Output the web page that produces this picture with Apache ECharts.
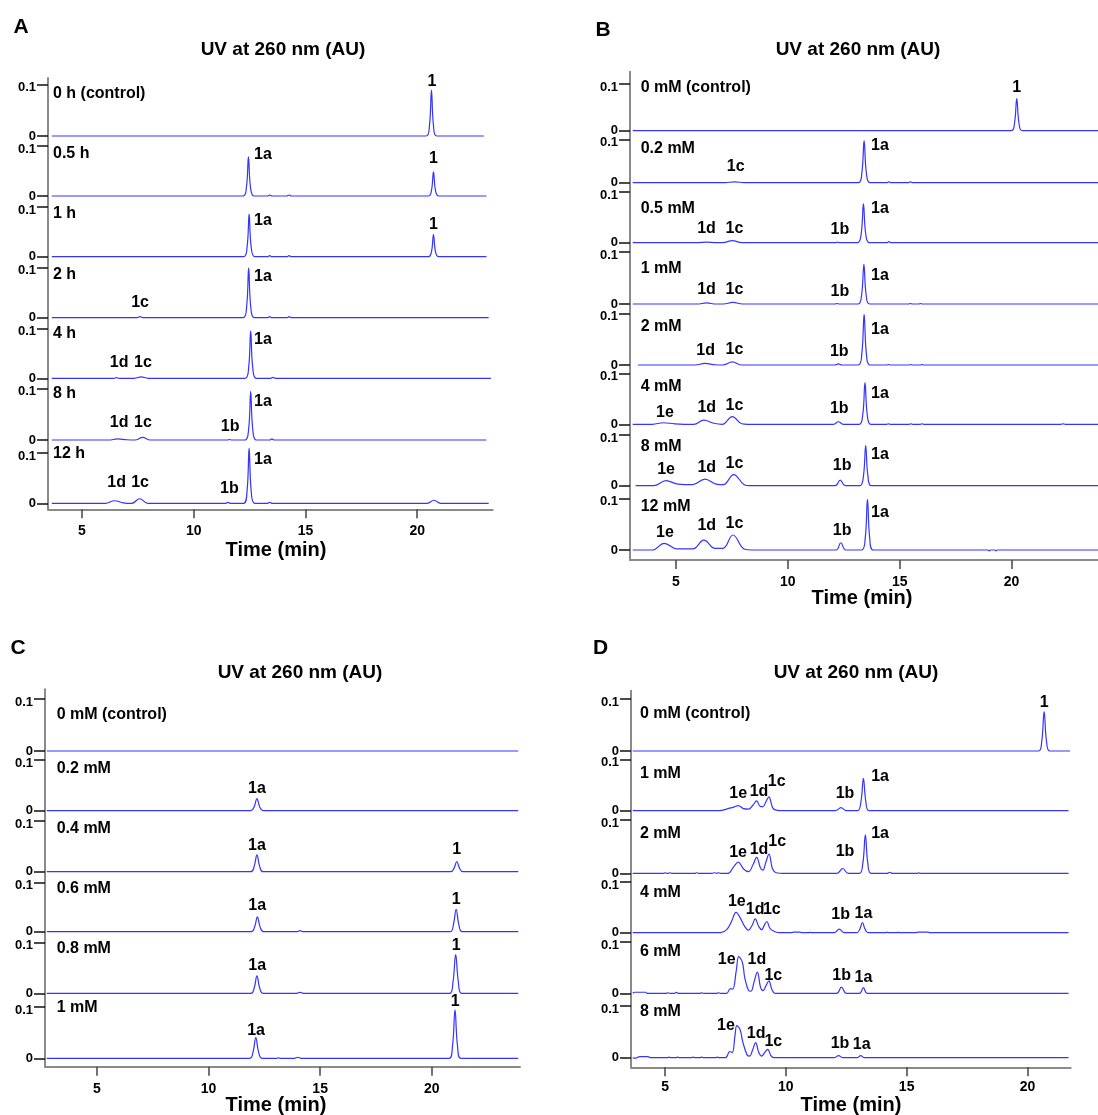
<!DOCTYPE html>
<html>
<head>
<meta charset="utf-8">
<script src="https://cdn.jsdelivr.net/npm/echarts@6/dist/echarts.min.js"></script>
<style>
html,body{margin:0;padding:0;background:#fff}
#main{width:1098px;height:1115px}
</style>
</head>
<body>
<div id="main"></div>
<script>
// ticks shared by all four panels
var xTicks = [5, 10, 15, 20];
var yTicks = [0, 0.1];

// ---------- panel A : time course ----------
var aNames = ['0 h (control)', '0.5 h', '1 h', '2 h', '4 h', '8 h', '12 h'];
var aTraces = [
  [[3.65,0],[20.4,0],[20.55,0.02],[20.64,0.089],[20.73,0.02],[20.88,0],[22.98,0]],
  [[3.65,0],[12.2,0],[12.36,0.018],[12.45,0.078],[12.54,0.018],[12.7,0],[13.3,0],[13.4,0.002],[13.5,0],[14.17,0],[14.27,0.002],[14.37,0],[20.5,0],[20.64,0.011],[20.73,0.048],[20.82,0.011],[20.96,0],[23.1,0]],
  [[3.65,0],[12.23,0],[12.39,0.02],[12.48,0.085],[12.57,0.02],[12.73,0],[13.3,0],[13.4,0.002],[13.5,0],[14.17,0],[14.27,0.002],[14.37,0],[20.5,0],[20.64,0.01],[20.73,0.044],[20.82,0.01],[20.96,0],[23.1,0]],
  [[3.65,0],[7.45,0],[7.6,0.002],[7.75,0],[12.21,0],[12.37,0.023],[12.46,0.099],[12.55,0.023],[12.71,0],[13.3,0],[13.4,0.002],[13.5,0],[14.17,0],[14.27,0.002],[14.37,0],[23.2,0]],
  [[3.65,0],[6.42,0],[6.54,0.0015],[6.66,0],[7.35,0],[7.65,0.003],[7.95,0],[12.3,0],[12.46,0.022],[12.55,0.095],[12.64,0.022],[12.8,0],[13.45,0],[13.55,0.002],[13.65,0],[23.3,0]],
  [[3.65,0],[6.2,0],[6.6,0.002],[7.0,0.0005],[7.37,0],[7.72,0.005],[8.05,0],[11.5,0],[11.6,0.001],[11.7,0],[12.3,0],[12.46,0.022],[12.55,0.094],[12.64,0.022],[12.8,0],[13.4,0],[13.5,0.002],[13.6,0],[23.1,0]],
  [[3.65,0],[6.05,0],[6.45,0.005],[6.85,0.001],[7.23,0],[7.58,0.009],[7.95,0],[11.43,0],[11.53,0.002],[11.63,0],[12.23,0],[12.39,0.026],[12.48,0.109],[12.57,0.026],[12.73,0],[13.3,0],[13.4,0.002],[13.5,0],[20.45,0],[20.75,0.006],[21.05,0],[23.2,0]]
];
var aPeaks = [
  [[20.66,0.105,'1']],
  [[13.1,0.083,'1a'],[20.73,0.074,'1']],
  [[13.1,0.072,'1a'],[20.73,0.065,'1']],
  [[7.6,0.030,'1c'],[13.1,0.081,'1a']],
  [[6.66,0.031,'1d'],[7.73,0.031,'1c'],[13.1,0.078,'1a']],
  [[6.66,0.033,'1d'],[7.73,0.033,'1c'],[11.63,0.026,'1b'],[13.1,0.075,'1a']],
  [[6.55,0.040,'1d'],[7.6,0.040,'1c'],[11.6,0.030,'1b'],[13.1,0.086,'1a']]
];

// ---------- panel B ----------
var bNames = ['0 mM (control)', '0.2 mM', '0.5 mM', '1 mM', '2 mM', '4 mM', '8 mM', '12 mM'];
var bTraces = [
  [[3.07,0],[19.98,0],[20.13,0.016],[20.23,0.069],[20.33,0.016],[20.48,0],[24,0]],
  [[3.07,0],[7.2,0],[7.62,0.002],[8.05,0],[13.15,0],[13.31,0.023],[13.41,0.097],[13.51,0.023],[13.67,0],[14.42,0],[14.52,0.002],[14.62,0],[15.38,0],[15.48,0.002],[15.58,0],[24,0]],
  [[3.07,0],[5.95,0],[6.37,0.001],[6.8,0],[7.1,0],[7.52,0.004],[7.95,0],[12.12,0],[12.22,0.001],[12.32,0],[13.12,0],[13.28,0.018],[13.38,0.076],[13.48,0.018],[13.64,0],[14.42,0],[14.52,0.002],[14.62,0],[24,0]],
  [[3.07,0],[5.95,0],[6.37,0.002],[6.8,0],[7.12,0],[7.55,0.003],[7.98,0],[12.1,0],[12.2,0.001],[12.3,0],[13.14,0],[13.3,0.018],[13.4,0.076],[13.5,0.018],[13.66,0],[15.4,0],[15.48,0.001],[15.56,0],[15.85,0],[15.93,0.001],[16.01,0],[24,0]],
  [[3.3,0],[5.85,0],[6.29,0.003],[6.75,0.0005],[7.1,0],[7.52,0.006],[7.95,0],[12.1,0],[12.26,0.002],[12.42,0],[13.15,0],[13.31,0.023],[13.41,0.098],[13.51,0.023],[13.67,0],[14.42,0],[14.5,0.001],[14.58,0],[15.42,0],[15.5,0.001],[15.58,0],[15.92,0],[16.0,0.001],[16.08,0],[24,0]],
  [[3.07,0],[3.95,0],[4.44,0.003],[4.95,0.001],[5.8,0],[6.25,0.008],[6.7,0.002],[7.07,0],[7.52,0.015],[7.95,0.001],[8.2,0],[12.04,0],[12.26,0.005],[12.48,0],[13.19,0],[13.35,0.019],[13.45,0.082],[13.55,0.019],[13.71,0],[14.42,0],[14.5,0.001],[14.58,0],[15.42,0],[15.5,0.001],[15.58,0],[15.92,0],[16.0,0.001],[16.08,0],[22.2,0],[22.3,0.001],[22.4,0],[24,0]],
  [[3.2,0],[4.0,0],[4.56,0.010],[5.1,0.003],[5.75,0.002],[6.3,0.013],[6.8,0.003],[7.12,0.002],[7.58,0.022],[8.05,0.002],[8.3,0],[12.12,0],[12.34,0.011],[12.56,0],[13.22,0],[13.38,0.019],[13.48,0.079],[13.58,0.019],[13.74,0],[24,0]],
  [[3.07,0],[3.95,0],[4.48,0.013],[5.05,0.002],[5.75,0.002],[6.25,0.019],[6.75,0.003],[7.1,0.003],[7.55,0.029],[8.05,0.002],[8.4,0],[12.15,0],[12.37,0.014],[12.59,0],[13.3,0],[13.46,0.023],[13.56,0.098],[13.66,0.023],[13.82,0],[18.95,0],[19.0,-0.002],[19.05,0],[19.25,0],[19.3,-0.002],[19.35,0],[24,0]]
];
var bPeaks = [
  [[20.23,0.092,'1']],
  [[7.67,0.037,'1c'],[14.12,0.085,'1a']],
  [[6.37,0.027,'1d'],[7.62,0.027,'1c'],[12.33,0.025,'1b'],[14.12,0.067,'1a']],
  [[6.37,0.027,'1d'],[7.62,0.027,'1c'],[12.33,0.024,'1b'],[14.12,0.055,'1a']],
  [[6.33,0.027,'1d'],[7.62,0.030,'1c'],[12.3,0.026,'1b'],[14.12,0.068,'1a']],
  [[4.51,0.023,'1e'],[6.38,0.033,'1d'],[7.62,0.036,'1c'],[12.3,0.031,'1b'],[14.12,0.061,'1a']],
  [[4.56,0.031,'1e'],[6.38,0.036,'1d'],[7.62,0.044,'1c'],[12.43,0.039,'1b'],[14.12,0.061,'1a']],
  [[4.51,0.033,'1e'],[6.38,0.048,'1d'],[7.62,0.052,'1c'],[12.43,0.037,'1b'],[14.12,0.072,'1a']]
];

// ---------- panel C ----------
var cNames = ['0 mM (control)', '0.2 mM', '0.4 mM', '0.6 mM', '0.8 mM', '1 mM'];
var cTraces = [
  [[2.76,0],[23.87,0]],
  [[2.76,0],[11.9,0],[12.05,0.008],[12.17,0.024],[12.29,0.008],[12.44,0],[23.87,0]],
  [[2.76,0],[11.9,0],[12.05,0.011],[12.17,0.033],[12.29,0.011],[12.44,0],[20.85,0],[21.0,0.007],[21.12,0.020],[21.24,0.007],[21.39,0],[23.87,0]],
  [[2.76,0],[11.92,0],[12.07,0.01],[12.19,0.030],[12.31,0.01],[12.46,0],[13.95,0],[14.1,0.002],[14.25,0],[20.82,0],[20.97,0.015],[21.09,0.045],[21.21,0.015],[21.36,0],[23.87,0]],
  [[2.76,0],[11.9,0],[12.05,0.011],[12.17,0.034],[12.29,0.011],[12.44,0],[13.95,0],[14.1,0.002],[14.25,0],[20.8,0],[20.95,0.022],[21.07,0.076],[21.19,0.022],[21.34,0],[23.87,0]],
  [[2.76,0],[11.85,0],[12.0,0.013],[12.12,0.040],[12.24,0.013],[12.39,0],[13.05,0],[13.13,0.001],[13.21,0],[13.85,0],[14.0,0.002],[14.15,0],[20.77,0],[20.93,0.025],[21.04,0.094],[21.15,0.025],[21.31,0],[23.87,0]]
];
var cPeaks = [
  [],
  [[12.17,0.044,'1a']],
  [[12.17,0.052,'1a'],[21.12,0.043,'1']],
  [[12.18,0.052,'1a'],[21.09,0.066,'1']],
  [[12.18,0.054,'1a'],[21.09,0.093,'1']],
  [[12.13,0.053,'1a'],[21.05,0.110,'1']]
];

// ---------- panel D ----------
var dNames = ['0 mM (control)', '1 mM', '2 mM', '4 mM', '6 mM', '8 mM'];
var dTraces = [
  [[3.66,0],[20.45,0],[20.59,0.018],[20.69,0.076],[20.79,0.018],[20.93,0],[21.76,0]],
  [[3.66,0],[7.25,0],[7.6,0.004],[7.85,0.007],[8.03,0.010],[8.25,0.004],[8.45,0.003],[8.64,0.011],[8.79,0.019],[8.95,0.008],[9.05,0.008],[9.18,0.018],[9.3,0.027],[9.45,0.006],[9.6,0.001],[9.9,0],[12.05,0],[12.28,0.006],[12.5,0],[12.97,0],[13.11,0.018],[13.21,0.063],[13.31,0.018],[13.45,0],[21.7,0]],
  [[3.66,0],[4.95,0],[5.0,0.001],[5.08,0],[5.15,0],[5.2,0.001],[5.28,0],[6.25,0],[6.3,0.001],[6.4,0],[6.95,0],[7.05,0.001],[7.15,0],[7.2,0.001],[7.3,0],[7.6,0],[7.85,0.013],[8.03,0.021],[8.25,0.008],[8.45,0.003],[8.64,0.016],[8.79,0.030],[8.95,0.01],[9.05,0.006],[9.18,0.022],[9.3,0.036],[9.45,0.008],[9.6,0.001],[9.9,0],[12.12,0],[12.35,0.009],[12.58,0],[13.05,0],[13.19,0.02],[13.29,0.072],[13.39,0.02],[13.53,0],[14.2,0],[14.3,0.002],[14.4,0],[15.45,0],[15.5,0.001],[15.55,0],[21.7,0]],
  [[3.66,0],[7.3,0],[7.55,0.006],[7.75,0.022],[7.94,0.040],[8.1,0.03],[8.3,0.012],[8.45,0.005],[8.6,0.014],[8.73,0.027],[8.88,0.012],[9.0,0.006],[9.1,0.014],[9.21,0.022],[9.35,0.008],[9.55,0.002],[9.75,0],[10.25,0],[10.3,0.001],[10.6,0.001],[10.65,0],[10.95,0],[11.0,0.001],[11.05,0],[12.0,0],[12.21,0.007],[12.42,0],[12.95,0],[13.07,0.008],[13.17,0.020],[13.27,0.008],[13.4,0],[14.15,0],[14.2,0.001],[14.25,0],[14.6,0],[14.65,0.001],[14.7,0],[15.4,0],[15.45,0.001],[15.9,0.001],[15.95,0],[21.7,0]],
  [[3.66,0],[3.75,0.002],[4.2,0.002],[4.25,0],[5.05,0],[5.1,0.001],[5.2,0],[5.4,0],[5.45,0.002],[5.55,0],[6.45,0],[6.5,0.001],[6.6,0],[7.15,0],[7.2,0.001],[7.3,0],[7.55,0],[7.7,0.009],[7.8,0.008],[7.95,0.045],[8.05,0.071],[8.2,0.06],[8.3,0.03],[8.45,0.006],[8.55,0.004],[8.7,0.025],[8.82,0.041],[8.95,0.012],[9.05,0.005],[9.15,0.012],[9.3,0.024],[9.42,0.008],[9.55,0],[12.1,0],[12.3,0.012],[12.5,0],[13.05,0],[13.21,0.011],[13.37,0],[21.7,0]],
  [[3.66,0],[3.75,-0.001],[3.95,0.002],[4.3,0.002],[4.4,0],[5.1,0],[5.15,0.001],[5.25,0],[5.45,0],[5.5,0.001],[5.6,0],[6.1,0],[6.15,0.001],[6.25,0],[6.45,0],[6.5,0.001],[6.6,0],[7.1,0],[7.15,0.001],[7.25,0],[7.5,0],[7.68,0.012],[7.78,0.01],[7.9,0.045],[7.97,0.062],[8.1,0.055],[8.22,0.03],[8.4,0.005],[8.5,0.003],[8.63,0.016],[8.75,0.029],[8.88,0.01],[9.0,0.003],[9.12,0.01],[9.25,0.016],[9.38,0.004],[9.5,0],[12.0,0],[12.18,0.004],[12.36,0],[12.95,0],[13.1,0.004],[13.25,0],[21.7,0]]
];
var dPeaks = [
  [[20.69,0.093,'1']],
  [[8.03,0.034,'1e'],[8.89,0.038,'1d'],[9.62,0.056,'1c'],[12.45,0.034,'1b'],[13.9,0.066,'1a']],
  [[8.02,0.038,'1e'],[8.89,0.045,'1d'],[9.64,0.059,'1c'],[12.45,0.041,'1b'],[13.9,0.074,'1a']],
  [[7.97,0.061,'1e'],[8.73,0.046,'1d'],[9.42,0.045,'1c'],[12.27,0.035,'1b'],[13.21,0.038,'1a']],
  [[7.55,0.065,'1e'],[8.8,0.066,'1d'],[9.48,0.035,'1c'],[12.31,0.035,'1b'],[13.21,0.030,'1a']],
  [[7.52,0.062,'1e'],[8.77,0.047,'1d'],[9.48,0.031,'1c'],[12.24,0.028,'1b'],[13.14,0.025,'1a']]
];

// page layout of each panel, in pixels
var panels = [
  {letter:'A', names:aNames, traces:aTraces, peaks:aPeaks,
   left:48, width:444.7, xmin:3.48, xmax:23.38, axisTop:78, axisY:509.3,
   tops:[84.3,145.7,206.7,267.3,328.3,388.3,452.7],
   zeros:[136,196,256.7,317.7,378.3,440,503.3],
   labelX:53, labelY:[94,154,214,275,334,394,454],
   title:[283,50], letterAt:[21,27.5], timeAt:[276,550], tickGap:15},
  {letter:'B', names:bNames, traces:bTraces, peaks:bPeaks,
   left:630, width:470, xmin:2.95, xmax:23.86, axisTop:71.7, axisY:560,
   tops:[84,139.3,191.7,251.7,313.3,373.3,435,498.3],
   zeros:[130.7,182.7,242.7,304,365,424.3,485.7,550],
   labelX:640.7, labelY:[87.7,148.3,208.3,268.3,326.7,386.7,446.7,506.7],
   title:[858,50], letterAt:[603,30.7], timeAt:[862,598.3], tickGap:15},
  {letter:'C', names:cNames, traces:cTraces, peaks:cPeaks,
   left:45, width:475, xmin:2.68, xmax:23.95, axisTop:689.3, axisY:1066.7,
   tops:[699,760,820.7,882.3,942.3,1006.7],
   zeros:[751,810.7,871.7,931.7,993.3,1058.3],
   labelX:56.7, labelY:[715,769,828.3,888.3,948.3,1007.3],
   title:[300,672.3], letterAt:[18,648.3], timeAt:[276,1105], tickGap:15},
  {letter:'D', names:dNames, traces:dTraces, peaks:dPeaks,
   left:631, width:439.7, xmin:3.59, xmax:21.79, axisTop:690.7, axisY:1067.3,
   tops:[699,759.3,820,881.7,941.7,1006],
   zeros:[751,810.7,873.3,932.7,993.3,1057.7],
   labelX:640, labelY:[713.3,774,833.3,892.7,951.7,1011.7],
   title:[856,672.3], letterAt:[600.7,648.3], timeAt:[851,1105], tickGap:13}
];

var FONT = '"Liberation Sans", Arial, sans-serif';
var LINE = '#3434ff';
var AXIS = '#8a8a8a';

var grids = [], xAxes = [], yAxes = [], series = [], graphics = [];

function txt(x, y, s, size, align) {
  return {type:'text', x:x, y:y, silent:true,
    style:{text:s, font:'bold ' + size + 'px ' + FONT, fill:'#000',
      textAlign:align || 'center', textVerticalAlign:'middle',
      align:align || 'center', verticalAlign:'middle'}};
}

panels.forEach(function (p) {
  // frame: continuous y axis line and the shared time axis
  var g = grids.length;
  grids.push({left:p.left, width:p.width, top:p.axisTop, height:p.axisY - p.axisTop});
  xAxes.push({gridIndex:g, type:'value', min:p.xmin, max:p.xmax,
    axisLine:{show:true, lineStyle:{color:AXIS, width:2}},
    axisTick:{show:true, customValues:xTicks, length:9, lineStyle:{color:'#444', width:1.5}},
    axisLabel:{customValues:xTicks, margin:p.tickGap, color:'#000', fontWeight:'bold', fontSize:14, fontFamily:FONT},
    splitLine:{show:false}});
  yAxes.push({gridIndex:g, type:'value', min:0, max:1,
    axisLine:{show:true, lineStyle:{color:AXIS, width:2}},
    axisTick:{show:false}, axisLabel:{show:false}, splitLine:{show:false}});

  p.traces.forEach(function (tr, i) {
    var gi = grids.length;
    grids.push({left:p.left, width:p.width, top:p.tops[i], height:p.zeros[i] - p.tops[i]});
    xAxes.push({gridIndex:gi, type:'value', min:p.xmin, max:p.xmax, show:false});
    yAxes.push({gridIndex:gi, type:'value', min:0, max:0.1, interval:0.1,
      axisLine:{show:false},
      axisTick:{show:true, customValues:yTicks, length:11, lineStyle:{color:'#111', width:1.5}},
      axisLabel:{customValues:yTicks, margin:12, color:'#000', fontWeight:'bold', fontSize:13, fontFamily:FONT,
        formatter:function (v) { return v === 0 ? '{z|0}' : '{t|0.1}'; },
        rich:{z:{fontWeight:'bold', fontSize:13, fontFamily:FONT, color:'#000'},
              t:{fontWeight:'bold', fontSize:13, fontFamily:FONT, color:'#000', padding:[7,0,0,0]}}},
      splitLine:{show:false}});
    series.push({type:'line', xAxisIndex:gi, yAxisIndex:gi, data:tr,
      showSymbol:false, symbol:'none', smooth:0.4, clip:false, silent:true,
      lineStyle:{color:LINE, width:1.2}});
    series.push({type:'scatter', xAxisIndex:gi, yAxisIndex:gi, data:p.peaks[i],
      symbolSize:0, itemStyle:{color:'#000', opacity:1}, clip:false, silent:true, z:5,
      label:{show:true, position:[0, 0], align:'center', verticalAlign:'middle',
        color:'#000', opacity:1, textBorderWidth:0,
        fontWeight:'bold', fontSize:16, fontFamily:FONT,
        formatter:function (q) { return q.data[2]; }}});
    graphics.push(txt(p.labelX, p.labelY[i], p.names[i], 16, 'left'));
  });

  graphics.push(txt(p.letterAt[0], p.letterAt[1], p.letter, 21));
  graphics.push(txt(p.title[0], p.title[1], 'UV at 260 nm (AU)', 19));
  graphics.push(txt(p.timeAt[0], p.timeAt[1], 'Time (min)', 20));
});

var chart = echarts.init(document.getElementById('main'));
chart.setOption({
  animation:false,
  backgroundColor:'#fff',
  grid:grids, xAxis:xAxes, yAxis:yAxes, series:series,
  graphic:{elements:graphics}
});
</script>
</body>
</html>
